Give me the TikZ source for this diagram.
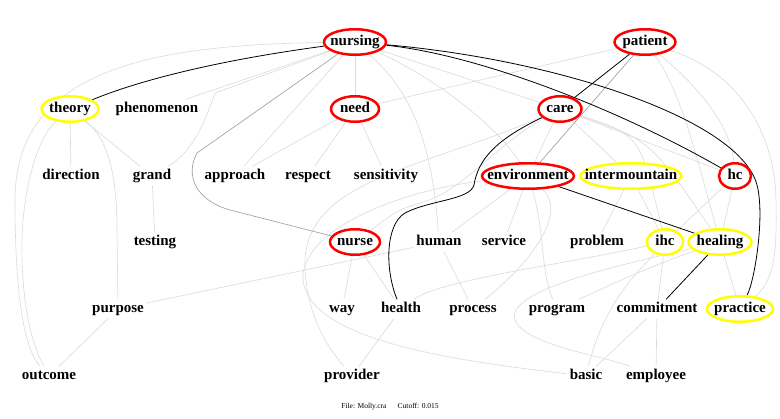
\documentclass[tikz,border=0pt]{standalone}
\usepackage{fontspec}
\setmainfont{Liberation Serif}
\usepackage{tikz}
\usetikzlibrary{shapes.geometric, backgrounds}
\definecolor{ringred}{HTML}{FF0000}
\definecolor{ringyellow}{HTML}{FFFF00}
\definecolor{faint}{HTML}{DADADA}
\definecolor{mid}{HTML}{9A9A9A}

\begin{document}
\begin{tikzpicture}[
    x=1pt, y=-1pt,
    term/.style={inner sep=3pt, text height=10pt, text depth=3pt,
        font=\fontsize{15}{15}\selectfont\bfseries},
    hub/.style={term, ellipse, line width=2.5pt, fill=white,
        inner xsep=-14pt, inner ysep=0pt, minimum height=25.5pt},
    redterm/.style={hub, draw=ringred},
    yellowterm/.style={hub, draw=ringyellow},
    link/.style={faint, line width=0.6pt},
    graylink/.style={mid, line width=0.6pt},
    strong/.style={black, line width=0.8pt},
    note/.style={font=\fontsize{7.5}{8}\selectfont}
]
\useasboundingbox (0,0) rectangle (780,419);

% Top row
\node[redterm, minimum width=62pt] (nursing) at (355,42) {nursing};
\node[redterm, minimum width=61pt] (patient) at (645,42) {patient};

% Second row
\node[yellowterm, minimum width=57pt] (theory) at (70,109) {theory};
\node[term] (phenomenon) at (157,109) {phenomenon};
\node[redterm, minimum width=48pt] (need) at (355,109) {need};
\node[redterm, minimum width=43pt] (care) at (560,109) {care};

% Third row
\node[term] (direction) at (71,176) {direction};
\node[term] (grand) at (152,176) {grand};
\node[term] (approach) at (235,176) {approach};
\node[term] (respect) at (308,176) {respect};
\node[term] (sensitivity) at (386,176) {sensitivity};
\node[redterm, minimum width=92pt] (environment) at (528,176) {environment};
\node[yellowterm, minimum width=101pt] (intermountain) at (631,176) {intermountain};
\node[redterm, minimum width=32pt] (hc) at (735,176) {hc};

% Fourth row
\node[term] (testing) at (155,242) {testing};
\node[redterm, minimum width=50pt] (nurse) at (355,242) {nurse};
\node[term] (human) at (439,242) {human};
\node[term] (service) at (504,242) {service};
\node[term] (problem) at (597,242) {problem};
\node[yellowterm, minimum width=36pt] (ihc) at (665,242) {ihc};
\node[yellowterm, minimum width=63pt] (healing) at (720,242) {healing};

% Fifth row
\node[term] (purpose) at (118,309) {purpose};
\node[term] (way) at (342,309) {way};
\node[term] (health) at (401,309) {health};
\node[term] (process) at (473,309) {process};
\node[term] (program) at (557,309) {program};
\node[term] (commitment) at (657,309) {commitment};
\node[yellowterm, minimum width=66pt] (practice) at (740,309) {practice};

% Bottom row
\node[term] (outcome) at (49,376) {outcome};
\node[term] (provider) at (352,376) {provider};
\node[term] (basic) at (586,376) {basic};
\node[term] (employee) at (656,376) {employee};

% Footer
\node[note] (footer) at (390,407) {File: Molly.cra\quad\ \ Cutoff: 0.015};

\begin{pgfonlayer}{background}
% Faint links
\draw[link] (nursing) .. controls (150,45) and (15,70) .. (15,200)
    .. controls (15,300) and (25,350) .. (outcome);
\draw[link] (theory) .. controls (35,140) and (20,200) .. (22,260)
    .. controls (24,320) and (35,350) .. (outcome);
\draw[link] (theory) -- (direction);
\draw[link] (theory) -- (grand);
\draw[link] (theory) .. controls (110,140) and (117,180) .. (117,230) -- (purpose);
\draw[link] (grand) -- (testing);
\draw[link] (nursing) -- (phenomenon);
\draw[link] (nursing) -- (215,93) .. controls (205,120) and (195,150) .. (grand);
\draw[link] (nursing) -- (approach);
\draw[link] (nursing) -- (need);
\draw[link] (need) -- (approach);
\draw[link] (need) -- (respect);
\draw[link] (need) -- (sensitivity);
\draw[link] (need) -- (patient);
\draw[link] (nursing) .. controls (410,90) and (432,140) .. (human);
\draw[link] (nursing) -- (care);
\draw[link] (nursing) .. controls (440,80) and (500,130) .. (environment);
\draw[link] (patient) .. controls (690,80) and (730,120) .. (hc);
\draw[link] (patient) .. controls (680,90) and (695,150) .. (healing);
\draw[link] (patient) .. controls (745,75) and (775,140) .. (776,200)
    .. controls (777,250) and (775,280) .. (practice);
\draw[link] (care) -- (hc);
\draw[link] (care) .. controls (650,140) .. (healing);
\draw[link] (care) .. controls (640,135) .. (ihc);
\draw[link] (care) -- (environment);
\draw[link] (care) -- (intermountain);
\draw[link] (care) .. controls (492,148) and (462,192) .. (420,203)
    .. controls (398,210) .. (nurse);
\draw[link] (care) .. controls (420,170) and (300,180) .. (305,270)
    .. controls (308,320) and (330,350) .. (provider);
\draw[link] (environment) .. controls (400,190) and (300,230) .. (303,280)
    .. controls (310,340) and (450,360) .. (basic);
\draw[link] (environment) -- (service);
\draw[link] (environment) -- (human);
\draw[link] (environment) .. controls (545,230) and (540,270) .. (program);
\draw[link] (environment) .. controls (565,210) and (540,255) .. (process);
\draw[link] (intermountain) -- (problem);
\draw[link] (intermountain) -- (ihc);
\draw[link] (hc) -- (ihc);
\draw[link] (hc) -- (healing);
\draw[link] (healing) -- (practice);
\draw[link] (ihc) .. controls (560,265) and (440,280) .. (health);
\draw[link] (healing) .. controls (640,270) and (600,290) .. (program);
\draw[link] (healing) .. controls (620,265) and (505,290) .. (515,320)
    .. controls (525,345) and (600,355) .. (employee);
\draw[link] (ihc) -- (commitment);
\draw[link] (ihc) .. controls (640,270) and (605,300) .. (basic);
\draw[link] (commitment) -- (basic);
\draw[link] (commitment) -- (employee);
\draw[link] (nurse) -- (way);
\draw[link] (nurse) -- (health);
\draw[link] (health) -- (provider);
\draw[link] (human) -- (process);
\draw[link] (purpose) -- (outcome);
\draw[link] (purpose) -- (human);

% Gray links
\draw[graylink] (nursing) -- (197,153) .. controls (185,175) and (195,200) .. (230,210) -- (nurse);
\draw[graylink] (patient) -- (environment);

% Strong links
\draw[strong] (nursing) .. controls (220,60) and (140,80) .. (theory);
\draw[strong] (nursing) .. controls (480,55) and (620,110) .. (hc);
\draw[strong] (nursing) .. controls (560,60) and (740,120) .. (757,185)
    .. controls (765,215) and (755,280) .. (practice);
\draw[strong] (patient) -- (care);
\draw[strong] (care) .. controls (495,140) and (478,160) .. (474,185)
    .. controls (470,200) and (430,200) .. (405,213)
    .. controls (385,225) and (385,270) .. (health);
\draw[strong] (environment) -- (healing);
\draw[strong] (healing) -- (commitment);
\end{pgfonlayer}

\end{tikzpicture}
\end{document}
